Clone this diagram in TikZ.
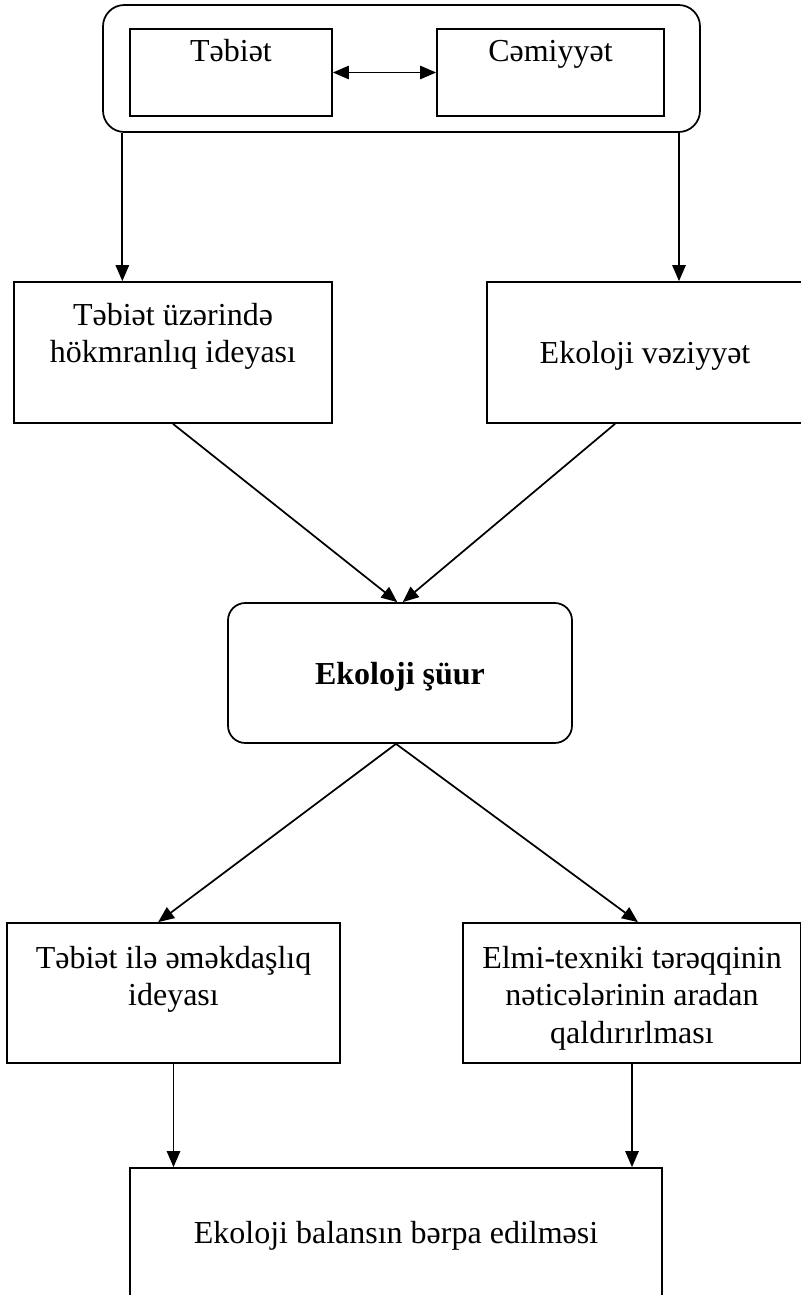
\documentclass[tikz,border=0pt]{standalone}
\usepackage{fontspec}
\setmainfont{Liberation Serif}
\usetikzlibrary{arrows.meta,positioning}

\begin{document}
\begin{tikzpicture}[
      x=0.75pt,y=-0.75pt,
      box/.style={rectangle,draw,line width=1.3pt,inner sep=0pt},
      txt/.style={align=center,inner sep=0pt,font=\fontsize{24}{28}\selectfont},
      arrow/.style={-{Triangle[length=12pt,width=10pt]},line width=1.3pt},
      dblarrow/.style={{Triangle[length=12pt,width=10pt]}-{Triangle[length=12pt,width=10pt]},line width=1.3pt}
      ]

      \useasboundingbox (0,0) rectangle (800,1295);

      \node[box,rounded corners=16pt,minimum width=447.75pt,minimum height=95.25pt] (frame) at (401.5,68.5) {};
      \node[box,minimum width=151.5pt,minimum height=65.25pt] (tabiet) at (231,72.5) {};
      \node[box,minimum width=170.25pt,minimum height=65.25pt] (cemiyyet) at (550.5,72.5) {};
      \node[txt,anchor=base] (tabiettxt) at ([yshift=-25pt]tabiet.north) {Təbiət};
      \node[txt,anchor=base] (cemiyyettxt) at ([yshift=-25pt]cemiyyet.north) {Cəmiyyət};

      \node[box,minimum width=238.5pt,minimum height=105.75pt] (hokm) at (173,352.5) {};
      \node[txt,below=16.5pt of hokm.north] (hokmtxt) {Təbiət üzərində\\hökmranlıq ideyası};

      \node[box,minimum width=237pt,minimum height=105.75pt] (veziyyet) at (645,352.5) {};
      \node[txt,anchor=base] (veziyyettxt) at ([yshift=-61.5pt]veziyyet.north) {Ekoloji vəziyyət};

      \node[box,rounded corners=13pt,minimum width=258pt,minimum height=105pt] (shuur) at (400,673) {};
      \node[txt,anchor=base,font=\fontsize{24}{28}\selectfont\bfseries] (shuurtxt) at ([yshift=-62pt]shuur.north) {Ekoloji şüur};

      \node[box,minimum width=249.75pt,minimum height=105pt] (emekdas) at (173.5,993) {};
      \node[txt,below=18pt of emekdas.north] (emekdastxt) {Təbiət ilə əməkdaşlıq\\ideyası};

      \node[box,minimum width=253.5pt,minimum height=105pt] (elmi) at (632,993) {};
      \node[txt,below=18pt of elmi.north] (elmitxt) {Elmi-texniki tərəqqinin\\nəticələrinin aradan\\qaldırırlması};

      \node[box,minimum width=399pt,minimum height=118.5pt] (balans) at (396,1247) {};
      \node[txt,anchor=base] (balanstxt) at ([yshift=-57pt]balans.north) {Ekoloji balansın bərpa edilməsi};

      \coordinate (hokmin) at ([xshift=-38pt]hokm.north);
      \coordinate (vezin) at ([xshift=25.5pt]veziyyet.north);

      \draw[dblarrow] (tabiet) -- (cemiyyet);
      \draw[arrow] (frame.south -| hokmin) -- (hokmin);
      \draw[arrow] (frame.south -| vezin) -- (vezin);
      \draw[arrow] (hokm.south) -- ([xshift=-2pt]shuur.north);
      \draw[arrow] ([xshift=-22.5pt]veziyyet.south) -- ([xshift=2pt]shuur.north);
      \draw[arrow] ([xshift=-3pt]shuur.south) -- ([xshift=-11.5pt]emekdas.north);
      \draw[arrow] ([xshift=-3pt]shuur.south) -- ([xshift=4.5pt]elmi.north);
      \draw[arrow] (emekdas) -- (emekdas |- balans.north);
      \draw[arrow] (elmi) -- (elmi |- balans.north);

    \end{tikzpicture}
\end{document}
